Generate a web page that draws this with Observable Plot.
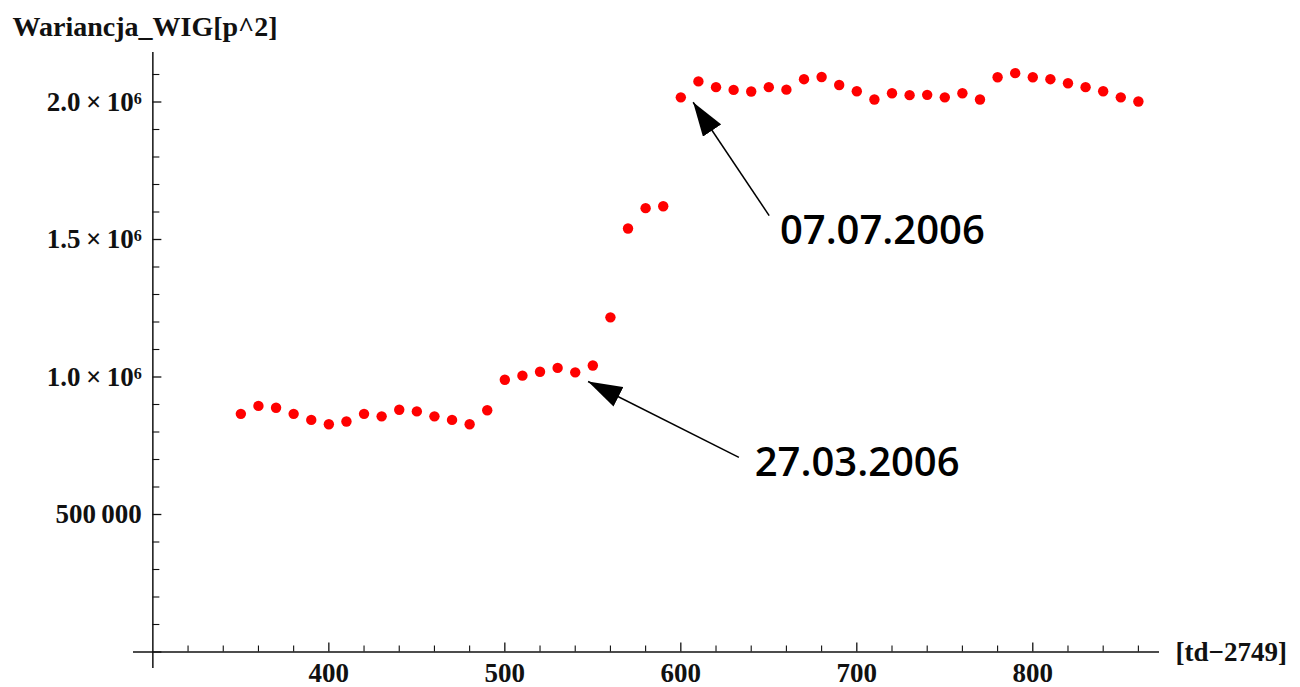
<!DOCTYPE html>
<html>
<head>
<meta charset="utf-8">
<script src="https://cdn.jsdelivr.net/npm/d3@7"></script>
<script src="https://cdn.jsdelivr.net/npm/@observablehq/plot@0.6"></script>
<style>
  html, body { margin: 0; padding: 0; background: #fff; }
  #chart svg { display: block; }
</style>
</head>
<body>
<div id="chart"></div>
<script>
// Trading day index (td − 2749), sampled every 10 sessions
const days = [
  350, 360, 370, 380, 390, 400, 410, 420, 430, 440,
  450, 460, 470, 480, 490, 500, 510, 520, 530, 540,
  550, 560, 570, 580, 590, 600, 610, 620, 630, 640,
  650, 660, 670, 680, 690, 700, 710, 720, 730, 740,
  750, 760, 770, 780, 790, 800, 810, 820, 830, 840,
  850, 860
];

// Variance of the WIG index [points^2]
const variance = [
  866000, 895000, 888000, 866000, 844000, 828000, 838000, 866000, 857000, 881000,
  875000, 857000, 844000, 828000, 879000, 990000, 1005000, 1019000, 1033000, 1017000,
  1042000, 1217000, 1540000, 1614000, 1621000, 2017000, 2075000, 2054000, 2044000, 2038000,
  2054000, 2045000, 2083000, 2091000, 2062000, 2039000, 2009000, 2032000, 2025000, 2026000,
  2017000, 2032000, 2009000, 2090000, 2105000, 2090000, 2083000, 2068000, 2054000, 2039000,
  2017000, 2002000
];

// Axis extents and the origin where the two axes cross
const xExtent = [289, 872];
const yExtent = [-60000, 2180000];
const origin = {x: 300, y: 0};

// Tick positions and labels
const xMajorTicks = [400, 500, 600, 700, 800];
const xMajorLabels = ["400", "500", "600", "700", "800"];
const xMinorTicks = [320, 340, 360, 380, 420, 440, 460, 480, 520, 540, 560, 580,
                     620, 640, 660, 680, 720, 740, 760, 780, 820, 840, 860];
const yMajorTicks = [0, 500000, 1000000, 1500000, 2000000];
const yMajorLabels = ["", "500\u2009000", "1.0\u2009×\u200910⁶", "1.5\u2009×\u200910⁶", "2.0\u2009×\u200910⁶"];
const yMinorTicks = [100000, 200000, 300000, 400000, 600000, 700000, 800000, 900000,
                     1100000, 1200000, 1300000, 1400000, 1600000, 1700000, 1800000, 1900000, 2100000];

// Axis titles
const yTitle = "Wariancja_WIG[p^2]";
const xTitle = "[td−2749]";

// Annotated dates: arrow from label to point, and label anchor
const annotationArrows = [
  {x1: 633, y1: 708000, x2: 547.3, y2: 983600},
  {x1: 650.2, y1: 1587000, x2: 607, y2: 1999000}
];
const annotationLabels = [
  {x: 642, y: 687000, text: "27.03.2006"},
  {x: 656.3, y: 1529000, text: "07.07.2006"}
];

const points = days.map((d, i) => ({day: d, value: variance[i]}));

// Filled triangular arrowhead
function filledHead(color, context) {
  const m = d3.create("svg:marker")
    .attr("viewBox", "-34 -11 34 22")
    .attr("markerWidth", 34)
    .attr("markerHeight", 22)
    .attr("markerUnits", "userSpaceOnUse")
    .attr("refX", 0)
    .attr("refY", 0)
    .attr("orient", "auto");
  m.append("path")
    .attr("d", "M0,0L-34,-11L-34,11Z")
    .attr("fill", color)
    .attr("stroke", "none");
  return m.node();
}

const serif = "'Liberation Serif', 'DejaVu Serif', serif";
const axisColor = "#111";

const chart = Plot.plot({
  width: 1300,
  height: 687,
  marginLeft: 133,
  marginRight: 141,
  marginTop: 52,
  marginBottom: 19,
  x: {domain: xExtent, axis: null},
  y: {domain: yExtent, axis: null},
  style: {background: "#fff", overflow: "visible"},
  marks: [
    // axes crossing at the origin
    Plot.ruleY([origin.y], {x1: xExtent[0], x2: xExtent[1], stroke: axisColor, strokeWidth: 1.5}),
    Plot.ruleX([origin.x], {y1: yExtent[0], y2: yExtent[1], stroke: axisColor, strokeWidth: 1.5}),

    // inward ticks on the x axis
    Plot.ruleX(xMajorTicks, {x: d => d, y1: origin.y, y2: origin.y, insetTop: -9, stroke: axisColor, strokeWidth: 1.3}),
    Plot.ruleX(xMinorTicks, {x: d => d, y1: origin.y, y2: origin.y, insetTop: -6, stroke: axisColor, strokeWidth: 1.1}),

    // inward ticks on the y axis
    Plot.ruleY(yMajorTicks, {y: d => d, x1: origin.x, x2: origin.x, insetRight: -9, stroke: axisColor, strokeWidth: 1.3}),
    Plot.ruleY(yMinorTicks, {y: d => d, x1: origin.x, x2: origin.x, insetRight: -7, stroke: axisColor, strokeWidth: 1.1}),

    // tick labels
    Plot.text(xMajorTicks, {
      x: d => d, y: origin.y, text: (d, i) => xMajorLabels[i],
      dy: 21, lineAnchor: "middle", textAnchor: "middle",
      fontFamily: serif, fontWeight: "bold", fontSize: 27, fill: "#111"
    }),
    Plot.text(yMajorTicks, {
      x: origin.x, y: d => d, text: (d, i) => yMajorLabels[i],
      dx: -11, lineAnchor: "middle", textAnchor: "end",
      fontFamily: serif, fontWeight: "bold", fontSize: 27, fill: "#111"
    }),

    // axis titles
    Plot.text([yTitle], {
      frameAnchor: "top-left", dx: -121, dy: -25, text: d => d,
      textAnchor: "start", lineAnchor: "middle",
      fontFamily: serif, fontWeight: "bold", fontSize: 28, fill: "#111"
    }),
    Plot.text([xTitle], {
      y: origin.y, frameAnchor: "right", dx: 16, text: d => d,
      textAnchor: "start", lineAnchor: "middle",
      fontFamily: serif, fontWeight: "bold", fontSize: 27, fill: "#111"
    }),

    // variance points
    Plot.dot(points, {x: "day", y: "value", r: 5.2, fill: "#ff0000", stroke: "none"}),

    // date annotations
    Plot.link(annotationArrows, {
      x1: "x1", y1: "y1", x2: "x2", y2: "y2",
      stroke: "#000", strokeWidth: 1.5, markerEnd: filledHead
    }),
    Plot.text(annotationLabels, {
      x: "x", y: "y", text: "text",
      textAnchor: "start", lineAnchor: "middle",
      fontFamily: "'Open Sans', 'DejaVu Sans', sans-serif", fontWeight: 600, fontSize: 40, fill: "#000"
    })
  ]
});

document.getElementById("chart").append(chart);
</script>
</body>
</html>
